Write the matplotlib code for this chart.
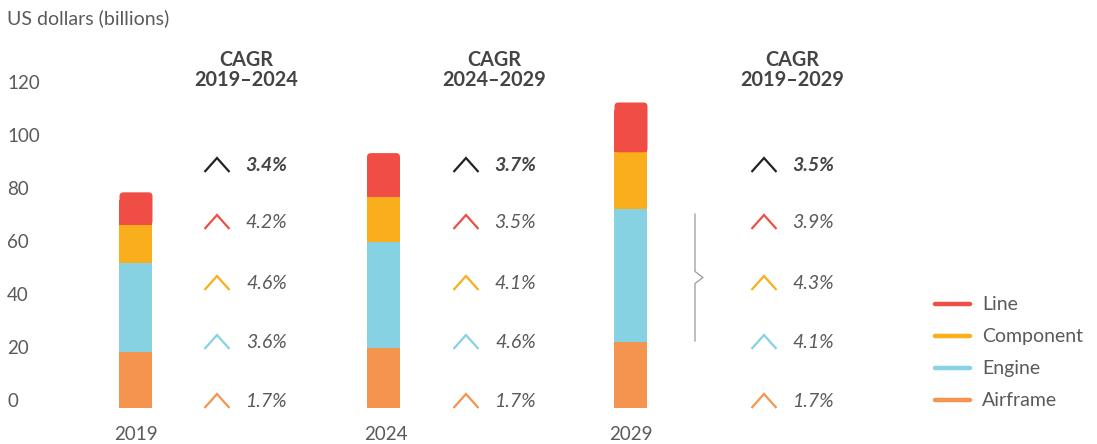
import matplotlib
matplotlib.use("Agg")
import matplotlib.pyplot as plt
import matplotlib.transforms as mtransforms
from matplotlib.patches import FancyBboxPatch

# data
years = ["2019", "2024", "2029"]
segments = ["Airframe", "Engine", "Component", "Line"]
values = {
    "Airframe": [21.4, 22.9, 24.9],
    "Engine": [33.5, 39.7, 50.3],
    "Component": [14.3, 17.2, 21.4],
    "Line": [12.3, 16.5, 18.8],
}
yticks = [0, 20, 40, 60, 80, 100, 120]
cagr_titles = ["CAGR\n2019\u20132024", "CAGR\n2024\u20132029", "CAGR\n2019\u20132029"]
cagr_total = ["3.4%", "3.7%", "3.5%"]
cagr_seg = {  # rows shown top to bottom: Line, Component, Engine, Airframe
    "Line": ["4.2%", "3.5%", "3.9%"],
    "Component": ["4.6%", "4.1%", "4.3%"],
    "Engine": ["3.6%", "4.6%", "4.1%"],
    "Airframe": ["1.7%", "1.7%", "1.7%"],
}
colors = {"Line": "#F04E45", "Component": "#F9AE1B", "Engine": "#86D2E3", "Airframe": "#F5944E"}

plt.rcParams['font.family'] = ['Lato', 'DejaVu Sans']
grey = "#5a5a5a"

W, H = 1097, 444
fig = plt.figure(figsize=(W / 100, H / 100), dpi=100)

# main axes for the bars (whole figure)
ax = fig.add_axes([0, 0, 1, 1])
px_per_unit = 2.65
zero_px = 408.3
step = 247.5
bw = 33 / step
ax.set_xlim(-136 / step, (W - 136) / step)
ax.set_ylim(-(H - zero_px) / px_per_unit, zero_px / px_per_unit)
ax.axis("off")

bottom = [0, 0, 0]
for s in segments:
    if s == segments[-1]:
        # top segment: square lower part + rounded cap
        ax.bar(range(len(years)), [v - 3 for v in values[s]], bottom=bottom, width=bw,
               color=colors[s], linewidth=0)
        for i, v in enumerate(values[s]):
            ax.add_patch(FancyBboxPatch((i - bw / 2, bottom[i]), bw, v,
                                        boxstyle="round,pad=0,rounding_size=0.016",
                                        mutation_aspect=step / px_per_unit,
                                        fc=colors[s], ec="none"))
    else:
        ax.bar(range(len(years)), values[s], bottom=bottom, width=bw,
               color=colors[s], linewidth=0)
    bottom = [b + v for b, v in zip(bottom, values[s])]

# y tick labels, placed slightly above their value like the original
lab_trans = mtransforms.blended_transform_factory(fig.transFigure, ax.transData) + \
    mtransforms.ScaledTranslation(0, 7 / 100, fig.dpi_scale_trans)
for v in yticks:
    ax.text(7 / W, v, str(v), transform=lab_trans, ha="left", va="center",
            fontsize=13.5, color=grey)

# overlay in pixel coordinates for annotations
ov = fig.add_axes([0, 0, 1, 1], facecolor="none")
ov.set_xlim(0, W)
ov.set_ylim(H, 0)
ov.axis("off")

ov.text(7, 18, "US dollars (billions)", ha="left", va="center", fontsize=14, color=grey)

bar_px = [136, 385.5, 631]
for i, y in enumerate(years):
    ov.text(bar_px[i], 434, y, ha="center", va="center", fontsize=13.5, color=grey)

head_x = [246, 494, 792]
arrow_x = [217, 466, 764]
row_y = [165, 222, 283, 342, 401]
rows = [("total", "#222222")] + [(s, colors[s]) for s in ["Line", "Component", "Engine", "Airframe"]]

for i in range(3):
    ov.text(head_x[i], 70, cagr_titles[i], ha="center", va="center", fontsize=14.3,
            fontweight="bold", color="#444444", linespacing=1.05)
    for r, (name, c) in enumerate(rows):
        cy = row_y[r]
        axp = arrow_x[i]
        ov.plot([axp - 12.5, axp, axp + 12.5], [cy + 7, cy - 7, cy + 7], color=c,
                lw=1.6, solid_joinstyle="miter", solid_capstyle="butt")
        if name == "total":
            ov.text(axp + 70, cy, cagr_total[i], ha="right", va="center", fontsize=14,
                    fontweight="bold", style="italic", color="#444444")
        else:
            ov.text(axp + 70, cy, cagr_seg[name][i], ha="right", va="center", fontsize=14,
                    style="italic", color=grey)

# bracket next to 2029 bar
ov.plot([695, 695, 703, 695, 695], [214, 271.5, 277.5, 283.5, 341], color="#9a9a9a", lw=0.9)

# legend
for k, s in enumerate(["Line", "Component", "Engine", "Airframe"]):
    ly = 304 + 32 * k
    ov.plot([935, 970], [ly, ly], color=colors[s], lw=3.2, solid_capstyle="round")
    ov.text(982, ly, s, ha="left", va="center", fontsize=14, color=grey)

fig.savefig("out.png", dpi=100)
